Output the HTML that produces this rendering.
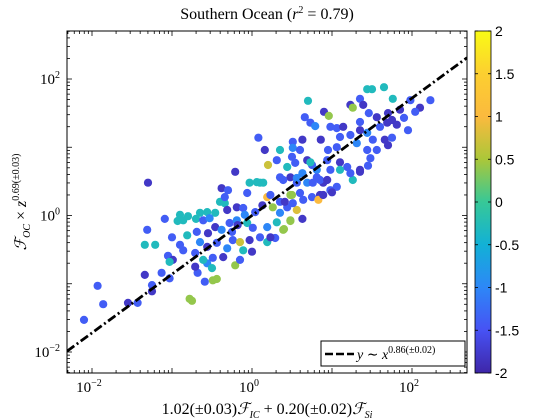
<!DOCTYPE html>
<html><head><meta charset="utf-8"><style>
html,body{margin:0;padding:0;background:#fff;}
svg{display:block;}
.serif{font-family:"Liberation Serif","DejaVu Serif",serif;}
.sans{font-family:"Liberation Sans",sans-serif;}
</style></head><body>
<svg id="chart" width="560" height="420" viewBox="0 0 560 420" xmlns="http://www.w3.org/2000/svg">
<defs>
<linearGradient id="parula" x1="0" y1="1" x2="0" y2="0">
<stop offset="0" stop-color="#3e26a8"/><stop offset="0.125" stop-color="#4752f4"/>
<stop offset="0.25" stop-color="#2d87f7"/><stop offset="0.375" stop-color="#12b1d6"/>
<stop offset="0.5" stop-color="#37c897"/><stop offset="0.625" stop-color="#abc739"/>
<stop offset="0.75" stop-color="#fbba3e"/><stop offset="0.875" stop-color="#fccf30"/>
<stop offset="1" stop-color="#f9fb15"/>
</linearGradient>
<clipPath id="plotclip"><rect x="67" y="31" width="400" height="342"/></clipPath>
</defs>
<rect x="0" y="0" width="560" height="420" fill="#fff"/>
<text class="serif" x="267" y="19" font-size="16" text-anchor="middle">Southern Ocean (<tspan font-style="italic">r</tspan><tspan font-size="10" dy="-6">2</tspan><tspan dy="6"> = 0.79)</tspan></text>
<rect x="67" y="31" width="400" height="342" fill="#fff"/>
<g id="points" clip-path="url(#plotclip)"></g>
<g id="fit" clip-path="url(#plotclip)"></g>
<g id="axes"></g>
<rect x="67" y="31" width="400" height="342" fill="none" stroke="#000" stroke-width="1"/>
<g>
<rect x="321" y="341" width="144" height="25" fill="#fff" stroke="#000" stroke-width="1"/>
<line x1="325" y1="354" x2="354" y2="354" stroke="#000" stroke-width="2.5" stroke-dasharray="8,3"/>
<text class="serif" x="357" y="359" font-size="14"><tspan font-style="italic">y</tspan> ∼ <tspan font-style="italic">x</tspan><tspan font-size="10" dy="-6">0.86(±0.02)</tspan></text>
</g>
<rect x="475" y="31" width="16" height="342" fill="url(#parula)"/>
<g id="cbar"></g>
<text class="serif" x="267" y="414" font-size="16" text-anchor="middle">1.02(±0.03)<tspan font-style="italic">ℱ</tspan><tspan font-size="10" dy="4" font-style="italic">IC</tspan><tspan dy="-4"> + 0.20(±0.02)</tspan><tspan font-style="italic">ℱ</tspan><tspan font-size="10" dy="4" font-style="italic">Si</tspan></text>
<text class="serif" transform="translate(26,202) rotate(-90)" font-size="16" text-anchor="middle"><tspan font-style="italic">ℱ</tspan><tspan font-size="10" dy="4" font-style="italic">OC</tspan><tspan dy="-4"> × </tspan><tspan font-style="italic">z</tspan><tspan font-size="10" dy="-7">0.69(±0.03)</tspan></text>
</svg>
<script>
const NS="http://www.w3.org/2000/svg";
// data: log10 x, log10 y, color value
const logX=[-2.10,-1.93,-1.86,-1.55,-1.43,-1.30,-1.34,-1.13,-1.03,-1.25,-1.25,-0.78,-0.75,-0.68,-0.59,-0.49,-0.44,-0.71,-0.56,-0.50,-0.21,-1.05,-0.99,-1.03,-0.71,-0.61,-0.49,-0.36,-0.15,0.00,-1.31,-0.69,-0.81,-0.55,-0.46,-0.38,-0.28,-0.19,-0.06,0.01,0.19,-1.00,-1.34,-1.21,-0.90,-0.86,-0.65,-0.56,-0.44,-0.31,-0.24,-0.15,-0.11,-0.03,0.10,0.19,0.39,0.48,-1.09,-0.90,-0.86,-0.80,-0.93,-0.65,-0.56,-0.46,-0.70,-0.61,-0.53,-0.40,-0.34,-0.31,-0.19,-0.11,-0.38,-0.30,-0.34,-0.21,-0.03,0.10,0.14,-0.06,0.08,0.16,0.35,0.51,0.63,0.86,0.95,0.51,0.50,0.60,1.06,1.31,1.44,1.56,1.70,1.10,1.23,1.44,1.51,1.66,1.75,0.20,0.31,0.44,0.54,0.69,0.75,0.81,0.94,1.10,1.19,1.35,1.48,1.26,0.06,0.35,0.48,0.56,0.69,0.81,0.89,0.98,1.06,0.85,0.75,0.19,0.48,0.83,0.35,0.98,0.63,1.44,1.65,1.50,0.70,1.35,1.23,1.39,1.76,1.98,0.90,0.96,1.26,1.46,0.66,0.73,0.79,1.56,1.70,1.75,1.90,0.98,1.06,1.14,1.35,1.35,1.60,1.69,1.81,1.45,1.35,1.23,1.10,1.00,0.89,0.64,0.56,0.50,0.63,0.48,0.40,0.31,0.35,0.44,0.26,0.29,0.23,0.73,0.85,0.76,0.56,0.39,0.94,0.60,0.41,0.51,2.10,2.04,1.85,2.23,1.95,0.13,0.04,-0.09,-0.18,-0.25,0.23];
const logY=[-1.53,-1.03,-1.30,-1.28,-1.28,0.48,-0.87,-0.84,-0.92,-1.02,-1.11,-1.22,-1.25,-0.84,-0.97,-0.95,-0.93,-0.75,-0.70,-0.77,-0.73,-0.59,-0.65,-0.68,-0.55,-0.65,-0.62,-0.61,-0.65,-0.53,-0.21,-0.24,-0.29,-0.26,-0.17,-0.21,-0.11,-0.07,-0.11,-0.18,-0.17,-0.32,-0.43,-0.43,-0.43,-0.51,-0.39,-0.46,-0.40,-0.48,-0.36,-0.39,-0.51,-0.36,-0.32,-0.39,-0.21,-0.07,-0.05,0.01,-0.07,-0.01,-0.08,0.04,0.05,0.04,-0.05,-0.07,-0.04,0.20,0.18,0.08,0.12,0.11,0.40,0.37,0.27,0.64,0.48,0.48,0.48,0.33,1.14,0.96,0.96,1.08,1.11,1.11,0.96,0.99,0.86,0.96,1.00,1.06,0.96,0.96,1.03,1.15,1.18,1.21,1.11,1.11,1.14,0.74,0.81,0.71,0.77,0.81,0.74,0.67,0.81,0.78,0.71,0.67,0.84,0.52,0.49,0.56,0.56,0.48,0.48,0.56,0.48,0.37,0.42,0.30,0.27,0.27,0.30,0.23,0.20,0.67,0.62,1.85,1.88,1.85,1.68,1.71,1.62,1.62,1.71,1.69,1.52,1.46,1.58,1.50,1.44,1.36,1.31,1.44,1.50,1.40,1.43,1.30,1.28,1.30,1.37,1.25,1.30,1.36,1.33,0.73,0.64,0.62,0.67,0.34,0.30,0.23,0.08,0.30,-0.05,-0.08,-0.20,-0.10,0.04,0.12,0.12,-0.33,-0.32,0.78,0.52,0.48,0.55,0.52,0.52,0.33,0.20,0.18,1.58,1.52,1.55,1.69,1.25,0.15,0.05,0.01,-0.14,-0.24,0.30];
const colorVals=[-1.4,-1.4,-1.4,-1.8,-1.4,-1.8,-1.8,-1.4,-1.4,-1.4,-1.8,0.4,0.4,-1.4,-1.4,0.4,0.4,-1.8,-1.0,-0.3,0.4,-1.4,-1.8,-0.3,-1.4,-0.3,-1.4,-1.8,-1.4,-1.8,-1.4,-1.4,-0.3,-1.8,-1.8,-1.0,-1.4,-1.0,-0.3,-1.4,-1.0,-1.4,-0.3,-0.3,-1.4,-1.4,-1.0,-1.8,-1.4,-1.0,-1.4,0.7,-0.3,-1.8,-1.4,-0.3,0.4,0.4,-1.4,-0.3,-0.3,-0.3,-0.3,-0.3,-0.3,-0.3,-0.3,-1.4,-1.0,-0.3,-0.3,-1.8,-1.8,-1.4,-1.8,-1.4,-1.4,-1.8,-0.3,-0.3,-0.3,-1.4,-1.4,-1.8,-0.3,-1.4,-1.8,-1.8,-1.4,-1.0,-1.4,-1.4,-1.4,-1.0,-1.4,-1.4,-1.8,-1.4,-1.4,-1.0,-1.4,-1.8,-1.4,0.7,-1.4,-0.3,-1.4,-1.8,-1.4,-1.0,-1.4,-1.8,-1.4,-1.8,-1.4,-0.3,-0.3,-1.4,-1.8,-1.4,-1.0,-1.4,-1.8,-1.4,-1.4,-1.8,-1.4,1.0,0.4,1.0,-1.4,-1.4,-1.0,-0.3,-0.3,-0.3,-0.3,-1.4,-1.8,-1.8,-0.3,-1.4,-1.8,0.4,0.4,-1.4,-1.4,-1.4,-1.0,-1.8,-1.8,-1.8,-1.4,-1.4,-1.4,-1.8,-1.4,-1.8,-1.4,-1.8,-1.8,-1.4,-1.8,-1.4,-0.3,-1.8,-1.8,-1.4,0.8,0.4,-1.8,0.4,0.4,-0.3,-1.0,-1.4,0.4,-1.4,-1.8,-0.3,-1.4,-1.4,-1.0,-1.4,-1.8,-1.4,-1.8,-1.4,-1.8,-1.4,-1.8,-1.4,-1.4,-1.8,-1.4,-1.0,-1.8,-1.4,-1.4];
const fitSlope=0.86, fitIntercept=0.0;
const xTickLabels=["-2","0","2"];
const yTickLabels=["-2","0","2"];
const cbarTicks=[-2,-1.5,-1,-0.5,0,0.5,1,1.5,2];
const cbarLabels=["-2","-1.5","-1","-0.5","0","0.5","1","1.5","2"];

const PX0=67,PX1=467,PY0=373,PY1=31;
const XMIN=-2.3125,XMAX=2.6875,YMIN=-2.3077,YMAX=2.7033;
function xs(l){return PX0+(l-XMIN)/(XMAX-XMIN)*(PX1-PX0);}
function ys(l){return PY0-(l-YMIN)/(YMAX-YMIN)*(PY0-PY1);}
function cs(v){return 373-(v+2)/4*342;}
const stops=[[0,[62,38,168]],[0.125,[71,82,244]],[0.25,[45,135,247]],[0.375,[18,177,214]],[0.5,[55,200,151]],[0.625,[171,199,57]],[0.75,[251,186,62]],[0.875,[252,207,48]],[1,[249,251,21]]];
function parula(v){let t=Math.max(0,Math.min(1,(v+2)/4));for(let i=1;i<stops.length;i++){if(t<=stops[i][0]){const a=stops[i-1],b=stops[i];const f=(t-a[0])/(b[0]-a[0]);const c=a[1].map((x,k)=>Math.round(x+(b[1][k]-x)*f));return `rgb(${c[0]},${c[1]},${c[2]})`;}}return "rgb(249,251,21)";}
function mk(tag,attrs,parent){const e=document.createElementNS(NS,tag);for(const k in attrs)e.setAttribute(k,attrs[k]);parent.appendChild(e);return e;}

const pts=document.getElementById('points');
for(let i=0;i<logX.length;i++){
  const c=mk('circle',{cx:xs(logX[i]).toFixed(1),cy:ys(logY[i]).toFixed(1),r:4.1,fill:parula(colorVals[i])},pts);
  
  
}
const fit=document.getElementById('fit');
const fl=mk('line',{x1:xs(XMIN),y1:ys(fitIntercept+fitSlope*XMIN),x2:xs(XMAX),y2:ys(fitIntercept+fitSlope*XMAX),stroke:'#000','stroke-width':2.8,'stroke-dasharray':'9,3,2,3'},fit);



const ax=document.getElementById('axes');
function tickLine(x1,y1,x2,y2){const t=mk('line',{x1:x1,y1:y1,x2:x2,y2:y2,stroke:'#000','stroke-width':0.8},ax);}
for(let d=-3;d<=2;d++){
  for(let m=1;m<=9;m++){
    const l=d+Math.log10(m);
    const len=(m===1)?5:3;
    if(l>=XMIN&&l<=XMAX){const x=xs(l);tickLine(x,PY0,x,PY0-len);tickLine(x,PY1,x,PY1+len);}
    if(l>=YMIN&&l<=YMAX){const y=ys(l);tickLine(PX0,y,PX0+len,y);tickLine(PX1,y,PX1-len,y);}
  }
}
xTickLabels.forEach(s=>{
  const e=+s;const t=mk('text',{x:xs(e)-3,y:392,'font-size':15,'text-anchor':'middle','class':'serif'},ax);
  
  
  t.innerHTML=`10<tspan font-size="10" dy="-6">${s.replace('-','−')}</tspan>`;
});
yTickLabels.forEach(s=>{
  const e=+s;const t=mk('text',{x:60,y:ys(e)+5,'font-size':15,'text-anchor':'end','class':'serif'},ax);
  
  
  t.innerHTML=`10<tspan font-size="10" dy="-6">${s.replace('-','−')}</tspan>`;
});
const cb=document.getElementById('cbar');
cbarTicks.forEach((v,i)=>{
  const y=cs(v);
  const a=mk('line',{x1:475,y1:y,x2:478,y2:y,stroke:'#000','stroke-width':0.8},cb);
  
  
  const b=mk('line',{x1:491,y1:y,x2:488,y2:y,stroke:'#000','stroke-width':0.8},cb);
  
  
  const t=mk('text',{x:495,y:y+5,'font-size':14,'class':'sans'},cb);
  
  
  t.textContent=cbarLabels[i];
});
const cf=mk('rect',{x:475,y:31,width:16,height:342,fill:'none',stroke:'#000','stroke-width':0.8},cb);


</script>
</body></html>
